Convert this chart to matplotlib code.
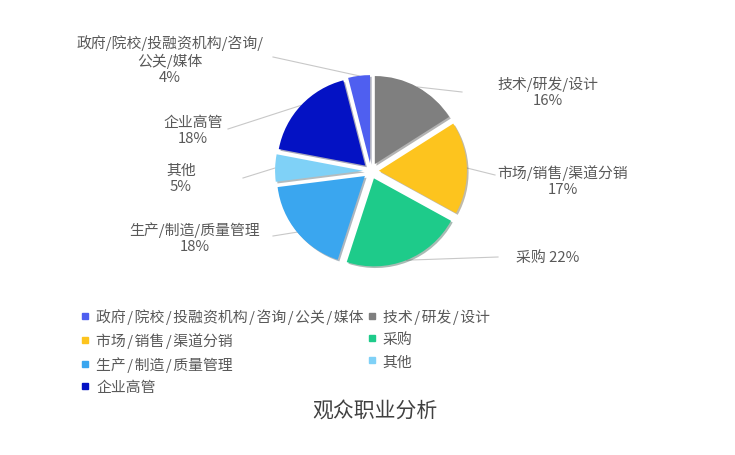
import numpy as np
import matplotlib.pyplot as plt
import matplotlib.patheffects as pe
from matplotlib.lines import Line2D

plt.rcParams['font.family'] = ['Noto Sans CJK SC', 'DejaVu Sans']

categories = ['技术/研发/设计', '市场/销售/渠道分销', '采购', '生产/制造/质量管理',
              '其他', '企业高管', '政府/院校/投融资机构/咨询/公关/媒体']
shares = [16, 17, 22, 18, 5, 18, 4]
colors = ['#7f7f7f', '#fdc41e', '#1ecb8a', '#3aa6ef', '#7fd1f7', '#0412c4', '#4f5ff0']
pie_labels = ['技术/研发/设计\n16%', '市场/销售/渠道分销\n17%', '采购 22%',
              '生产/制造/质量管理\n18%', '其他\n5%', '企业高管\n18%',
              '政府/院校/投融资机构/咨询/\n公关/媒体\n4%']
# label text centre and leader line end, in figure pixels from top-left
label_pos = [(548, 92), (563, 181), (548, 258), (195, 238), (181, 179), (193, 131), (170, 60)]
line_end = [(462, 93), (495, 176), (498, 258), (273, 237), (243, 179), (228, 130), (273, 58)]

W, H = 735, 456
fig = plt.figure(figsize=(W / 100, H / 100), dpi=100)

cx, cy, R = 371, 172, 88
half = 130
ax = fig.add_axes([(cx - half) / W, (H - cy - half) / H, 2 * half / W, 2 * half / H])

explode = [0.09] * len(shares)
wedges, _ = ax.pie(shares, colors=colors, startangle=90, counterclock=False,
                   explode=explode, radius=1.0,
                   wedgeprops=dict(edgecolor='none', linewidth=0))
for w in wedges:
    w.set_path_effects([pe.SimplePatchShadow(offset=(1.2, -1.2), alpha=0.35),
                        pe.Normal()])

lim = half / R
ax.set_xlim(-lim, lim)
ax.set_ylim(-lim, lim)
ax.axis('off')


def px_to_data(p):
    fx, fy = p[0] / W, (H - p[1]) / H
    disp = fig.transFigure.transform((fx, fy))
    return ax.transData.inverted().transform(disp)


for w, lab, tp, le, ex in zip(wedges, pie_labels, label_pos, line_end, explode):
    ang = np.deg2rad((w.theta1 + w.theta2) / 2)
    r0 = 1.0 + ex
    start = (r0 * np.cos(ang), r0 * np.sin(ang))
    end = px_to_data(le)
    ax.plot([start[0], end[0]], [start[1], end[1]], color='#c8c8c8', lw=0.8,
            clip_on=False, zorder=0)
    fig.text(tp[0] / W, (H - tp[1]) / H, lab, ha='center', va='center',
             fontsize=10.7, color='#595959', linespacing=1.2)

# legend text has a little air around the slashes
legend_labels = [c.replace('/', '\u200a/\u200a') for c in categories]
order = [6, 1, 3, 5, 0, 2, 4]
handles = [Line2D([], [], marker='s', linestyle='none', markersize=5,
                  color=colors[i]) for i in order]
fig.legend(handles, [legend_labels[i] for i in order], ncol=2,
           loc='upper left', bbox_to_anchor=(73 / W, (H - 302) / H),
           frameon=False, fontsize=10.7, labelcolor='#595959',
           handlelength=0.6, handletextpad=0.45, columnspacing=0.25,
           labelspacing=0.55, borderpad=0)

fig.text(375 / W, (H - 412) / H, '观众职业分析', ha='center', va='center',
         fontsize=15, color='#404040')

fig.savefig('out.png', dpi=100, facecolor='white')
